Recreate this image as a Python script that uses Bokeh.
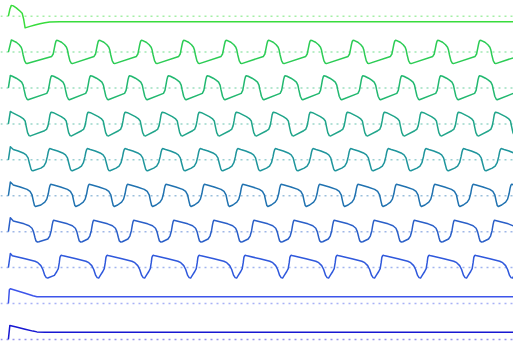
from bokeh.plotting import figure
from bokeh.models import Range1d, Span
from bokeh.embed import file_html
from bokeh.resources import INLINE

# ---------------- data (time units, membrane value units) ----------------
colors = ["#38dc3c", "#2ccc55", "#22b870", "#20a58a", "#1f959c",
          "#2072b0", "#2a5fc8", "#2f58dc", "#3d55ea", "#1717d2"]

# quiescent rows: explicit traces
row1_t = [0, 1.5, 3, 5, 8, 12, 14, 15.5, 17, 22, 27, 32, 37, 42, 52, 513]
row1_v = [0, 7, 11, 10.5, 8.5, 5, 3, -3, -12, -10.5, -9, -7.8, -6.8, -6, -5.7, -5.7]
row9_t = [0, 1, 2, 7, 17, 25, 29, 37, 513]
row9_v = [0, 14, 15, 13.5, 10.5, 8, 7, 6.8, 6.8]
row10_t = [0, 1.5, 7, 17, 25, 29, 37, 513]
row10_v = [0, 14.3, 13, 10.5, 8.5, 7.7, 7.4, 7.4]

# oscillating rows: spike (peak) times
row2_peaks = [3, 49, 92, 135, 178, 221, 264, 307, 350, 393, 436, 479, 522]
row3_peaks = [2, 44, 83.5, 123, 162.5, 202, 241.5, 281, 320.5, 360, 399.5, 439, 478.5, 518]
row4_peaks = [2, 43.7, 81.3, 118.9, 156.5, 194.1, 231.7, 269.3, 306.9, 344.5, 382.1, 419.7, 457.3, 494.9, 532.5]
row5_peaks = [2, 42, 80.2, 118.4, 156.6, 194.8, 233, 271.2, 309.4, 347.6, 385.8, 424, 462.2, 500.4, 538.6]
row6_peaks = [2, 43, 82, 121, 160, 199, 238, 277, 316, 355, 394, 433, 472, 511, 550]
row7_peaks = [2, 46, 86.7, 127.4, 168.1, 208.8, 249.5, 290.2, 330.9, 371.6, 412.3, 453, 493.7, 534.4]
row8_peaks = [2, 53.7, 100.4, 147.1, 193.8, 240.5, 287.2, 333.9, 380.6, 427.3, 474, 520.7]

# peak heights (first spike, later spikes)
row_heights = {2: (12.3, 12), 3: (12.8, 12.5), 4: (12.7, 12), 5: (13.3, 11.5),
               6: (14, 11.7), 7: (14.3, 11.7), 8: (14.3, 12.6)}

# cycle shapes: (offset after the spike, value) and (offset before next spike, value)
row2_after = [(2, 11.5), (5, 10), (8, 7.5), (10, 5), (11, 2), (12, -3), (13.5, -9), (15, -11.5), (16, -11.8)]
row2_before = [(-5, -4.5), (-3.5, -2), (-2.5, 3), (-1.5, 8), (-0.7, 11)]
row3_after = [(2, 12), (6, 10), (9, 8), (11.5, 6), (13, 3), (14, -2), (15.5, -8.5), (17, -11.5), (18, -12)]
row3_before = [(-5, -5.5), (-3.5, -2.5), (-2.5, 3), (-1.5, 8.5), (-0.7, 11.5)]
row4_after = [(2, 11.5), (6, 9.5), (10, 7.5), (13, 5.5), (15, 3), (16, -2), (17.5, -9), (19, -12), (20.5, -12.3)]
row4_before = [(-7, -7), (-5, -5.7), (-3.5, -2), (-2.5, 3), (-1.5, 9), (-0.7, 11.5)]
row5_after = [(3, 10.5), (8, 9), (13, 7), (16, 5), (18, 2), (19.5, -4), (21, -9.5), (22, -11), (23, -11.2)]
row5_before = [(-9, -8.5), (-6, -6.5), (-4, -3), (-2.5, 3), (-1.5, 8), (-0.7, 10.5)]
row6_after = [(3, 11), (10, 9), (17, 6.5), (20, 4.5), (22, 1), (23.5, -6), (24.5, -10), (25.5, -11)]
row6_before = [(-10, -9.5), (-6, -6.5), (-4, -3.5), (-2.5, 2), (-1.5, 7.5), (-0.7, 10.5)]
row7_after = [(3, 11), (14, 8), (19, 6), (22, 3.5), (23.5, 0), (25, -6), (26, -9.5), (27.5, -10.7), (29, -10.3)]
row7_before = [(-6, -7.5), (-4, -4.5), (-2.5, 1), (-1.5, 7), (-0.7, 10.5)]
row8_after = [(2, 12), (15, 9), (25, 6.5), (28, 5), (31, 2), (33, -2), (35, -8), (36.5, -10.3), (38, -10.7)]
row8_before = [(-7, -8), (-4.5, -4), (-3, -1), (-2, 5), (-1.3, 10.5), (-0.6, 12)]


def build(peaks, heights, after, before):
    t, v = [0.0], [0.0]
    for i, pk in enumerate(peaks):
        if i > 0:
            for dx, dv in before:
                t.append(pk + dx)
                v.append(dv)
        t.append(pk)
        v.append(heights[0] if i == 0 else heights[1])
        for dx, dv in after:
            t.append(pk + dx)
            v.append(dv)
    return t, v


traces = [(row1_t, row1_v),
          build(row2_peaks, row_heights[2], row2_after, row2_before),
          build(row3_peaks, row_heights[3], row3_after, row3_before),
          build(row4_peaks, row_heights[4], row4_after, row4_before),
          build(row5_peaks, row_heights[5], row5_after, row5_before),
          build(row6_peaks, row_heights[6], row6_after, row6_before),
          build(row7_peaks, row_heights[7], row7_after, row7_before),
          build(row8_peaks, row_heights[8], row8_after, row8_before),
          (row9_t, row9_v),
          (row10_t, row10_v)]

# ---------------- figure ----------------
p = figure(width=513, height=346, output_backend="svg", toolbar_location=None,
           x_range=Range1d(-8, 513), y_range=Range1d(-354, 0),
           min_border=0, min_border_left=0, min_border_right=0,
           min_border_top=0, min_border_bottom=0)
p.axis.visible = False
p.xgrid.visible = False
p.ygrid.visible = False
p.outline_line_color = None
p.background_fill_color = "white"
p.border_fill_color = "white"

row_gap = 36.75
first_base = 16.0
for k, ((t, v), c) in enumerate(zip(traces, colors)):
    base = -(first_base + row_gap * k)
    p.add_layout(Span(location=base, dimension="width", line_color=c,
                      line_alpha=0.45, line_width=1.5, line_dash="2 4"))
    p.line(t, [base + val for val in v], line_color=c, line_width=1.5,
           line_join="round")

open("out.html", "w").write(file_html(p, INLINE))
